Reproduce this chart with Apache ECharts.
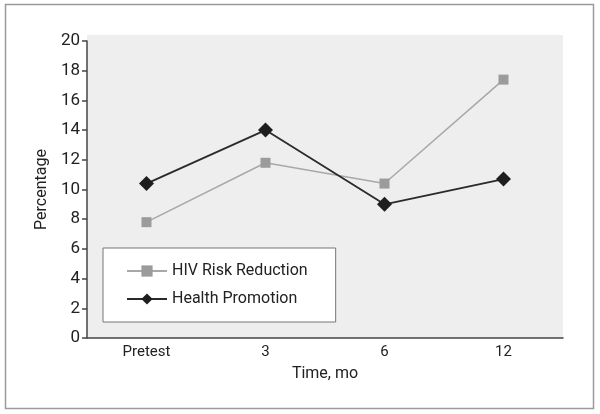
<!DOCTYPE html>
<html>
<head>
<meta charset="utf-8">
<script src="https://cdn.jsdelivr.net/npm/echarts@6/dist/echarts.min.js"></script>
<style>html,body{margin:0;padding:0;background:#fff;}#c{width:600px;height:414px;}</style>
</head>
<body>
<div id="c"></div>
<script>
const categories = ['Pretest', '3', '6', '12'];
const hivRisk = [7.8, 11.8, 10.4, 17.4];
const healthPromo = [10.4, 14.0, 9.0, 10.7];
const yTicks = [0, 2, 4, 6, 8, 10, 12, 14, 16, 18, 20];

const FONT = 'Roboto, "Liberation Sans", sans-serif';
const chart = echarts.init(document.getElementById('c'), null, {renderer: 'canvas'});
chart.setOption({
  animation: false,
  backgroundColor: '#fff',
  textStyle: {fontFamily: FONT},
  graphic: [
    {type: 'rect', shape: {x: 5.5, y: 4.5, width: 588, height: 404}, style: {fill: 'none', stroke: '#9a9a9a', lineWidth: 1.5}, z: -10},
    {type: 'rect', shape: {x: 87, y: 35, width: 476, height: 303}, style: {fill: '#eeeeee'}, z: -5}
  ],
  grid: {left: 87, right: 37, top: 41, bottom: 76, containLabel: false},
  legend: {
    orient: 'vertical',
    left: 103, top: 248,
    backgroundColor: '#fff',
    borderColor: '#777', borderWidth: 1, borderRadius: 0,
    padding: [15, 28, 15, 23],
    itemWidth: 40, itemHeight: 14, itemGap: 12,
    textStyle: {fontFamily: FONT, fontSize: 16, color: '#222'},
    data: ['HIV Risk Reduction', 'Health Promotion']
  },
  xAxis: {
    type: 'category',
    data: categories,
    boundaryGap: true,
    name: 'Time, mo',
    nameLocation: 'middle',
    nameGap: 28,
    nameTextStyle: {fontFamily: FONT, fontSize: 16, color: '#222'},
    axisLine: {lineStyle: {color: '#444', width: 1.5}},
    axisTick: {alignWithLabel: true, length: 4, lineStyle: {color: '#444', width: 1.5}},
    axisLabel: {fontFamily: FONT, fontSize: 15, color: '#222', margin: 7},
    splitLine: {show: false}
  },
  yAxis: {
    type: 'value',
    min: 0, max: 20, interval: 2,
    name: 'Percentage',
    nameLocation: 'middle',
    nameGap: 35,
    nameRotate: 90,
    nameTextStyle: {fontFamily: FONT, fontSize: 16, color: '#222'},
    axisLine: {show: true, lineStyle: {color: '#444', width: 1.5}},
    axisTick: {show: true, length: 5, lineStyle: {color: '#444', width: 1.5}},
    axisLabel: {fontFamily: FONT, fontSize: 17, color: '#222', margin: 7,
      formatter: v => yTicks.includes(v) ? String(v) : ''},
    splitLine: {show: false}
  },
  series: [
    {
      name: 'HIV Risk Reduction', type: 'line', data: hivRisk,
      symbol: 'rect', symbolSize: 10,
      itemStyle: {color: '#9b9b9b'},
      lineStyle: {color: '#a8a8a8', width: 1.5}
    },
    {
      name: 'Health Promotion', type: 'line', data: healthPromo,
      symbol: 'diamond', symbolSize: 15,
      itemStyle: {color: '#1e1e1e'},
      lineStyle: {color: '#2a2a2a', width: 1.8}
    }
  ]
});
</script>
</body>
</html>
